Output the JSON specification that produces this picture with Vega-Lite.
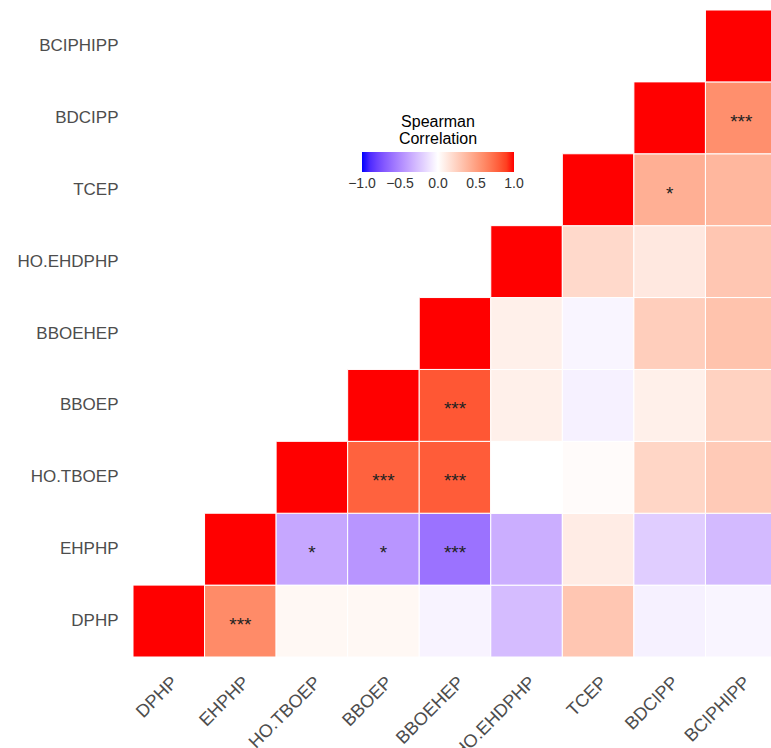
{
  "$schema": "https://vega.github.io/schema/vega-lite/v6.json",
  "width": 644,
  "height": 647,
  "autosize": {"type": "none"},
  "padding": {"left": 133, "top": 10, "right": 0, "bottom": 91},
  "background": "white",
  "config": {"view": {"stroke": null}, "font": "Liberation Sans"},
  "data": {"values": [
    {"x": "DPHP", "y": "DPHP", "r": 1, "sig": ""},
    {"x": "EHPHP", "y": "DPHP", "r": 0.6, "sig": "***"},
    {"x": "HO.TBOEP", "y": "DPHP", "r": 0.04, "sig": ""},
    {"x": "BBOEP", "y": "DPHP", "r": 0.04, "sig": ""},
    {"x": "BBOEHEP", "y": "DPHP", "r": -0.05, "sig": ""},
    {"x": "HO.EHDPHP", "y": "DPHP", "r": -0.28, "sig": ""},
    {"x": "TCEP", "y": "DPHP", "r": 0.3, "sig": ""},
    {"x": "BDCIPP", "y": "DPHP", "r": -0.06, "sig": ""},
    {"x": "BCIPHIPP", "y": "DPHP", "r": -0.04, "sig": ""},
    {"x": "EHPHP", "y": "EHPHP", "r": 1, "sig": ""},
    {"x": "HO.TBOEP", "y": "EHPHP", "r": -0.37, "sig": "*"},
    {"x": "BBOEP", "y": "EHPHP", "r": -0.45, "sig": "*"},
    {"x": "BBOEHEP", "y": "EHPHP", "r": -0.6, "sig": "***"},
    {"x": "HO.EHDPHP", "y": "EHPHP", "r": -0.34, "sig": ""},
    {"x": "TCEP", "y": "EHPHP", "r": 0.1, "sig": ""},
    {"x": "BDCIPP", "y": "EHPHP", "r": -0.21, "sig": ""},
    {"x": "BCIPHIPP", "y": "EHPHP", "r": -0.29, "sig": ""},
    {"x": "HO.TBOEP", "y": "HO.TBOEP", "r": 1, "sig": ""},
    {"x": "BBOEP", "y": "HO.TBOEP", "r": 0.78, "sig": "***"},
    {"x": "BBOEHEP", "y": "HO.TBOEP", "r": 0.8, "sig": "***"},
    {"x": "HO.EHDPHP", "y": "HO.TBOEP", "r": 0.0, "sig": ""},
    {"x": "TCEP", "y": "HO.TBOEP", "r": 0.02, "sig": ""},
    {"x": "BDCIPP", "y": "HO.TBOEP", "r": 0.22, "sig": ""},
    {"x": "BCIPHIPP", "y": "HO.TBOEP", "r": 0.28, "sig": ""},
    {"x": "BBOEP", "y": "BBOEP", "r": 1, "sig": ""},
    {"x": "BBOEHEP", "y": "BBOEP", "r": 0.82, "sig": "***"},
    {"x": "HO.EHDPHP", "y": "BBOEP", "r": 0.08, "sig": ""},
    {"x": "TCEP", "y": "BBOEP", "r": -0.06, "sig": ""},
    {"x": "BDCIPP", "y": "BBOEP", "r": 0.08, "sig": ""},
    {"x": "BCIPHIPP", "y": "BBOEP", "r": 0.24, "sig": ""},
    {"x": "BBOEHEP", "y": "BBOEHEP", "r": 1, "sig": ""},
    {"x": "HO.EHDPHP", "y": "BBOEHEP", "r": 0.08, "sig": ""},
    {"x": "TCEP", "y": "BBOEHEP", "r": -0.04, "sig": ""},
    {"x": "BDCIPP", "y": "BBOEHEP", "r": 0.26, "sig": ""},
    {"x": "BCIPHIPP", "y": "BBOEHEP", "r": 0.32, "sig": ""},
    {"x": "HO.EHDPHP", "y": "HO.EHDPHP", "r": 1, "sig": ""},
    {"x": "TCEP", "y": "HO.EHDPHP", "r": 0.2, "sig": ""},
    {"x": "BDCIPP", "y": "HO.EHDPHP", "r": 0.12, "sig": ""},
    {"x": "BCIPHIPP", "y": "HO.EHDPHP", "r": 0.3, "sig": ""},
    {"x": "TCEP", "y": "TCEP", "r": 1, "sig": ""},
    {"x": "BDCIPP", "y": "TCEP", "r": 0.42, "sig": "*"},
    {"x": "BCIPHIPP", "y": "TCEP", "r": 0.38, "sig": ""},
    {"x": "BDCIPP", "y": "BDCIPP", "r": 1, "sig": ""},
    {"x": "BCIPHIPP", "y": "BDCIPP", "r": 0.58, "sig": "***"},
    {"x": "BCIPHIPP", "y": "BCIPHIPP", "r": 1, "sig": ""}
  ]},
  "encoding": {
    "x": {
      "field": "x", "type": "nominal",
      "sort": ["DPHP", "EHPHP", "HO.TBOEP", "BBOEP", "BBOEHEP", "HO.EHDPHP", "TCEP", "BDCIPP", "BCIPHIPP"],
      "scale": {"paddingInner": 0, "paddingOuter": 0},
      "axis": {"title": null, "labelAngle": -45, "labelAlign": "right", "labelBaseline": "top", "labelPadding": 16, "ticks": false, "domain": false, "labelFontSize": 18, "labelColor": "#4d4d4d", "labelFont": "Liberation Sans"}
    },
    "y": {
      "field": "y", "type": "nominal",
      "sort": ["BCIPHIPP", "BDCIPP", "TCEP", "HO.EHDPHP", "BBOEHEP", "BBOEP", "HO.TBOEP", "EHPHP", "DPHP"],
      "scale": {"paddingInner": 0, "paddingOuter": 0},
      "axis": {"title": null, "ticks": false, "domain": false, "labelPadding": 15, "labelFontSize": 17, "labelColor": "#4d4d4d", "labelFont": "Liberation Sans"}
    }
  },
  "layer": [
    {
      "mark": {"type": "rect", "stroke": "white", "strokeWidth": 1},
      "encoding": {
        "color": {
          "field": "r", "type": "quantitative",
          "scale": {"domain": [-1, 0, 1], "range": ["#0000FF", "#FFFFFF", "#FF0000"], "interpolate": "lab"},
          "legend": {
            "title": ["Spearman", "Correlation"],
            "orient": "none",
            "direction": "horizontal",
            "legendX": 229,
            "legendY": 104,
            "gradientLength": 152,
            "gradientThickness": 20,
            "gradientStrokeWidth": 0,
            "titleAnchor": "middle",
            "titleAlign": "center",
            "titleFontSize": 16,
            "titleFontWeight": "normal",
            "titleColor": "#000000",
            "titleFont": "Liberation Sans",
            "titleLineHeight": 17,
            "titlePadding": 5,
            "labelFontSize": 14,
            "labelColor": "#333333",
            "labelFont": "Liberation Sans",
            "labelOffset": 5,
            "values": [-1, -0.5, 0, 0.5, 1],
            "format": ".1f",
            "labelOverlap": false,
            "encode": {"labels": {"update": {"align": {"value": "center"}}}}
          }
        }
      }
    },
    {
      "mark": {"type": "text", "fontSize": 19, "color": "#222222", "baseline": "middle", "dy": 4},
      "encoding": {"text": {"field": "sig"}}
    }
  ]
}
